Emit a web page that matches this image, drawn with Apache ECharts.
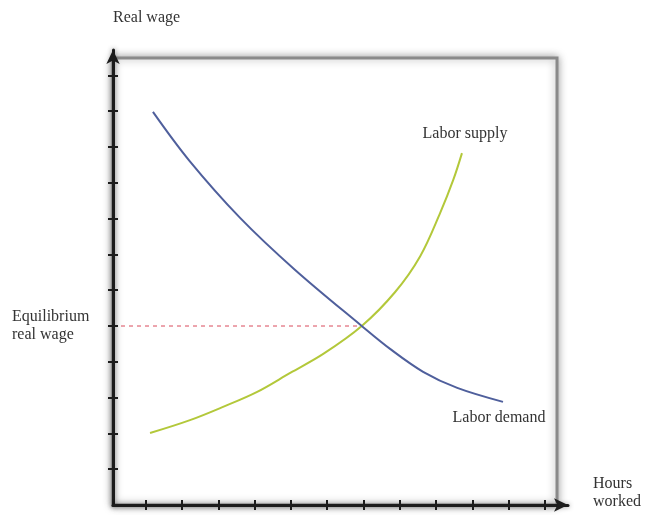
<!DOCTYPE html>
<html>
<head>
<meta charset="utf-8">
<script src="https://cdn.jsdelivr.net/npm/echarts@6/dist/echarts.min.js"></script>
<style>html,body{margin:0;padding:0;background:#fff;}#c{width:648px;height:515px;}</style>
</head>
<body>
<div id="c"></div>
<script>
// ---- data ----
const demandHours = [1.10, 2.10, 3.50, 5.00, 6.85, 7.63, 8.54, 9.48, 10.74];
const demandWage  = [10.98, 9.62, 8.02, 6.58, 5.00, 4.36, 3.72, 3.27, 2.88];
const supplyHours = [1.02, 2.12, 3.03, 3.97, 4.88, 5.79, 6.85, 7.77, 8.46, 9.01, 9.37, 9.61];
const supplyWage  = [2.01, 2.37, 2.74, 3.16, 3.69, 4.22, 5.00, 5.95, 6.95, 8.16, 9.08, 9.83];
const eqHours = 6.85;
const eqWage = 5.0;
const xTicks = [0.9, 1.9, 2.9, 3.9, 4.9, 5.9, 6.9, 7.9, 8.9, 9.9, 10.9, 11.9];
const yTicks = [1, 2, 3, 4, 5, 6, 7, 8, 9, 10, 11, 12];
const labels = {
  yName: 'Real wage',
  xName: ['Hours', 'worked'],
  eq: ['Equilibrium', 'real wage'],
  supply: 'Labor supply',
  demand: 'Labor demand'
};

const FONT = '"Liberation Serif", "Times New Roman", serif';
const TXT = '#333';
const AX = '#1c1c1c';

function pairs(xs, ys) {
  return xs.map((x, i) => [x, ys[i]]);
}

const axisLineStyle = { color: AX, width: 3, shadowBlur: 5, shadowColor: 'rgba(0,0,0,0.45)' };
const txt = { fontFamily: FONT, fontSize: 16, color: TXT };

const chart = echarts.init(document.getElementById('c'), null, { renderer: 'canvas' });
chart.setOption({
  animation: false,
  backgroundColor: '#fff',
  grid: [
    { left: 113, top: 50, width: 455, height: 455, z: 1, containLabel: false, outerBoundsMode: 'none' },
    { left: 113, top: 58, width: 444, height: 447, show: true, backgroundColor: '#fff', containLabel: false, outerBoundsMode: 'none',
      borderColor: '#8a8a8a', borderWidth: 3, shadowBlur: 8, shadowColor: 'rgba(0,0,0,0.35)', z: 0 }
  ],
  xAxis: [
    { type: 'value', gridIndex: 0, min: 0, max: 12.53, z: 5,
      name: '{a|' + labels.xName[0] + '}\n{a|' + labels.xName[1] + '}\n{s| }', nameLocation: 'end', nameGap: 25,
      nameTextStyle: { align: 'left', verticalAlign: 'middle',
        rich: { a: Object.assign({ lineHeight: 18 }, txt), s: { fontSize: 10, height: 24, lineHeight: 24 } } },
      axisLine: { show: true, onZero: false, symbol: ['none', 'arrow'], symbolSize: [10, 14], lineStyle: axisLineStyle },
      axisTick: { show: true, customValues: xTicks, inside: false, length: 5, lineStyle: { color: AX, width: 2 } },
      axisLabel: { show: false }, splitLine: { show: false } },
    { type: 'value', gridIndex: 0, min: 0, max: 12.53, position: 'bottom', z: 5,
      axisLine: { show: false },
      axisTick: { show: true, customValues: xTicks, inside: true, length: 5, lineStyle: { color: AX, width: 2 } },
      axisLabel: { show: false }, splitLine: { show: false } },
    { type: 'value', gridIndex: 1, show: false, min: 0, max: 1 }
  ],
  yAxis: [
    { type: 'value', gridIndex: 0, min: 0, max: 12.71, z: 5,
      name: labels.yName, nameLocation: 'end', nameGap: 24,
      nameTextStyle: Object.assign({ align: 'left' }, txt),
      axisLine: { show: true, onZero: false, symbol: ['none', 'arrow'], symbolSize: [10, 14], lineStyle: axisLineStyle },
      axisTick: { show: true, customValues: yTicks, inside: false, length: 5, lineStyle: { color: AX, width: 2 } },
      axisLabel: { show: true, customValues: [eqWage], margin: 21,
        formatter: () => '{a|' + labels.eq[0] + '}\n{a|' + labels.eq[1] + '}',
        rich: { a: Object.assign({ width: 80, align: 'left', lineHeight: 18 }, txt) } },
      splitLine: { show: false } },
    { type: 'value', gridIndex: 0, min: 0, max: 12.71, position: 'left', z: 5,
      axisLine: { show: false },
      axisTick: { show: true, customValues: yTicks, inside: true, length: 5, lineStyle: { color: AX, width: 2 } },
      axisLabel: { show: false }, splitLine: { show: false } },
    { type: 'value', gridIndex: 1, show: false, min: 0, max: 1 }
  ],
  series: [
    { type: 'line', xAxisIndex: 0, yAxisIndex: 0, z: 3, symbol: 'none', silent: true,
      data: [[0, eqWage], [eqHours, eqWage]],
      lineStyle: { color: '#d94b5c', width: 1, type: [4, 4] } },
    { name: labels.supply, type: 'line', xAxisIndex: 0, yAxisIndex: 0, z: 4, symbol: 'none',
      smooth: 0.35,
      data: pairs(supplyHours, supplyWage),
      endLabel: Object.assign({ show: true, formatter: labels.supply, distance: 0,
        align: 'center', verticalAlign: 'bottom', offset: [3, -11] }, txt),
      lineStyle: { color: '#b3c83a', width: 2 } },
    { name: labels.demand, type: 'line', xAxisIndex: 0, yAxisIndex: 0, z: 4, symbol: 'none',
      smooth: 0.35,
      data: pairs(demandHours, demandWage),
      endLabel: Object.assign({ show: true, formatter: labels.demand, distance: 0,
        align: 'center', verticalAlign: 'top', offset: [-4, 8] }, txt),
      lineStyle: { color: '#4f5f9c', width: 2 } }
  ]
});
</script>
</body>
</html>
